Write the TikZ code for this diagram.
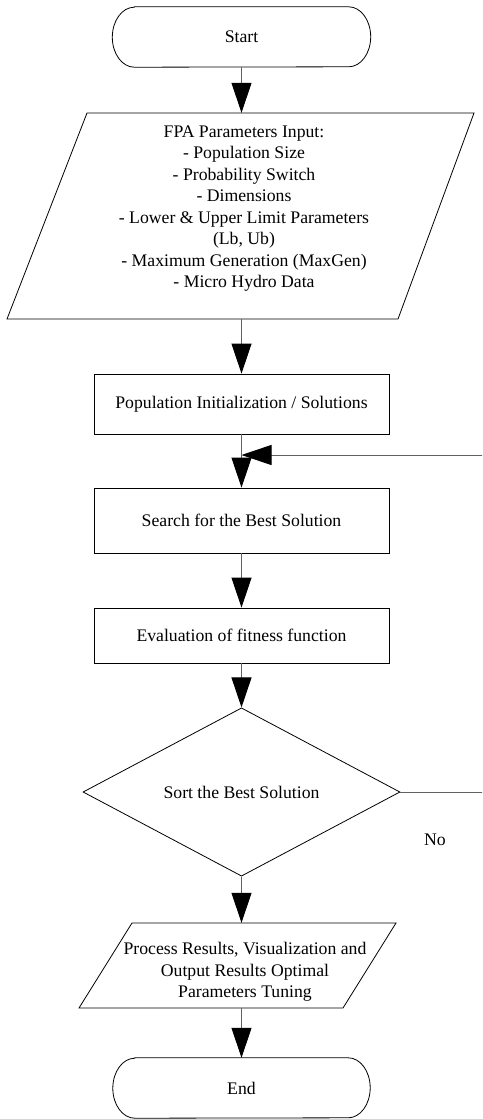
\documentclass[tikz,border=0pt]{standalone}
\usepackage{fontspec}
\setmainfont{Liberation Serif}
\usetikzlibrary{arrows.meta,shapes.geometric}
\begin{document}
\begin{tikzpicture}[x=1pt,y=-1pt,
  every node/.style={font=\fontsize{17.7}{21.5}\selectfont, align=center, inner sep=0pt, text=black},
  outline/.style={draw=black, line width=0.8pt},
  box/.style={outline, minimum width=295pt},
  conn/.style={draw=black!62, line width=1pt, -{Triangle[length=30pt,width=20pt,color=black]}},
]
\useasboundingbox (0,0) rectangle (482,1119);

% Start terminal
\node[minimum width=258pt, minimum height=60pt] (start) at (241.5,37) {Start};
\draw[outline] ([xshift=22pt]start.north west) -- ([xshift=-22pt]start.north east)
  arc[start angle=90, end angle=-90, x radius=22pt, y radius=30pt]
  -- ([xshift=22pt]start.south west)
  arc[start angle=270, end angle=90, x radius=22pt, y radius=30pt] -- cycle;

% FPA parameters parallelogram
\node[minimum width=310pt, minimum height=206pt] (par) at (241.5,216) {};
\draw[outline] (87,113) -- (474,113) -- (398,319) -- (7,319) -- cycle;
\node (partext) at (244,208.5) {FPA Parameters Input:\\- Population Size\\- Probability Switch\\- Dimensions\\- Lower \& Upper Limit Parameters\\(Lb, Ub)\\- Maximum Generation (MaxGen)\\- Micro Hydro Data};

% Process boxes
\node[box, minimum height=60pt] (pop) at (241.5,404) {Population Initialization / Solutions};
\node[box, minimum height=65pt] (search) at (241.5,520.5) {Search for the Best Solution};
\node[box, minimum height=55pt] (eval) at (241.5,635.5) {Evaluation of fitness function};

% Decision
\node[outline, diamond, minimum width=317pt, minimum height=158pt] (dia) at (241.5,792) {Sort the Best Solution};
\node (no) at (435,840) {No};

% Output parallelogram
\node[minimum width=264pt, minimum height=85pt] (out) at (241.5,965.5) {};
\draw[outline] (132,923) -- (396,923) -- (343,1008) -- (79,1008) -- cycle;
\node (outtext) at (245,972) {Process Results, Visualization and\\Output Results Optimal\\Parameters Tuning};

% End terminal
\node[minimum width=257pt, minimum height=60pt] (end) at (241.5,1088) {End};
\draw[outline] ([xshift=22pt]end.north west) -- ([xshift=-22pt]end.north east)
  arc[start angle=90, end angle=-90, x radius=22pt, y radius=30pt]
  -- ([xshift=22pt]end.south west)
  arc[start angle=270, end angle=90, x radius=22pt, y radius=30pt] -- cycle;

% Connectors
\draw[conn] (start.south) -- (par.north);
\draw[conn] (par.south) -- (pop.north);
\draw[conn] (pop.south) -- (search.north);
\draw[conn] (search.south) -- (eval.north);
\draw[conn] (eval.south) -- (dia.north);
\draw[conn] (dia.south) -- (out.north);
\draw[conn] (out.south) -- (end.north);

\coordinate (join) at (241.5,455);
\begin{scope}
\clip (0,0) rectangle (482,1119);
\draw[conn] (dia.east) -- ++(100,0) |- (join);
\end{scope}
\end{tikzpicture}
\end{document}
